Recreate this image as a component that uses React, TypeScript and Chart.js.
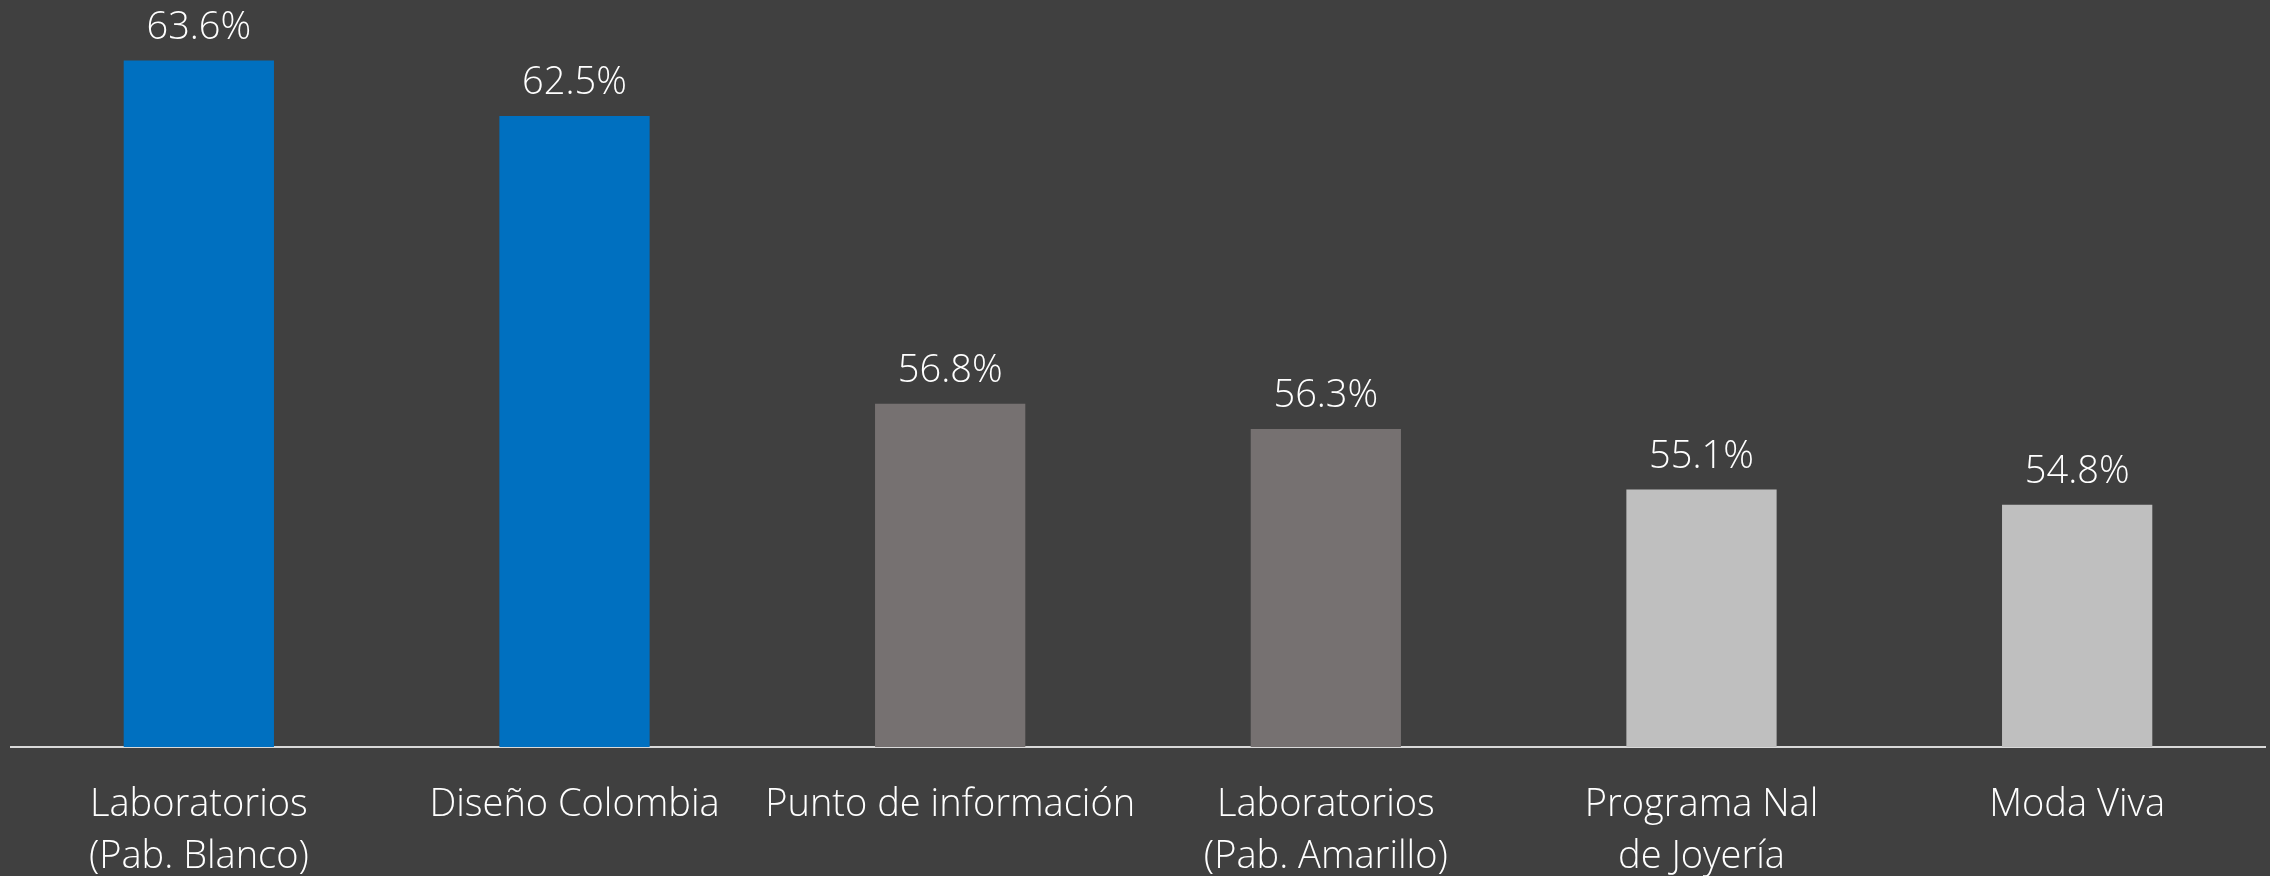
import React, { useEffect, useRef } from "react";
import { Chart, registerables } from "chart.js";

Chart.register(...registerables);

const categories: string[][] = [
  ["Laboratorios", "(Pab. Blanco)"],
  ["Diseño Colombia"],
  ["Punto de información"],
  ["Laboratorios", "(Pab. Amarillo)"],
  ["Programa Nal", "de Joyería"],
  ["Moda Viva"],
];
const values: number[] = [63.6, 62.5, 56.8, 56.3, 55.1, 54.8];
const barColors: string[] = ["#0070C0", "#0070C0", "#767171", "#767171", "#BFBFBF", "#BFBFBF"];

const FONT_FAMILY = "'Open Sans', sans-serif";

const valueLabelPlugin = {
  id: "valueLabels",
  afterDatasetsDraw(chart: any) {
    const ctx = chart.ctx;
    const meta = chart.getDatasetMeta(0);
    ctx.save();
    ctx.fillStyle = "#FFFFFF";
    ctx.font = `300 38px ${FONT_FAMILY}`;
    ctx.textAlign = "center";
    ctx.textBaseline = "alphabetic";
    meta.data.forEach((bar: any, i: number) => {
      ctx.fillText(values[i].toFixed(1) + "%", bar.x, bar.y - 22);
    });
    ctx.restore();
  },
};

export default function App() {
  const ref = useRef<HTMLCanvasElement | null>(null);
  useEffect(() => {
    document.body.style.margin = "0";
    document.body.style.background = "#404040";
    if (!ref.current) return;
    const chart = new Chart(ref.current, {
      type: "bar",
      data: {
        labels: categories,
        datasets: [
          {
            data: values,
            backgroundColor: barColors,
            borderWidth: 0,
            barPercentage: 0.4,
            categoryPercentage: 1,
          },
        ],
      },
      options: {
        responsive: false,
        animation: false,
        layout: { padding: { left: 11, right: 5, top: 0, bottom: 0 } },
        plugins: {
          legend: { display: false },
          tooltip: { enabled: false },
          title: { display: false },
        },
        scales: {
          x: {
            grid: { display: false, drawTicks: false },
            border: { display: true, color: "#D9D9D9", width: 2 },
            ticks: {
              color: "#FFFFFF",
              font: { family: FONT_FAMILY, size: 38, weight: "300", lineHeight: 1.37 },
              padding: 32,
              maxRotation: 0,
              minRotation: 0,
              autoSkip: false,
            },
            afterFit: (scale: any) => {
              scale.height = 129;
            },
          },
          y: {
            display: false,
            min: 50,
            max: 64.8,
          },
        },
      },
      plugins: [valueLabelPlugin],
    });
    return () => chart.destroy();
  }, []);
  return (
    <div style={{ width: 2270, height: 876, background: "#404040" }}>
      <canvas ref={ref} width={2270} height={876} style={{ display: "block" }} />
    </div>
  );
}
